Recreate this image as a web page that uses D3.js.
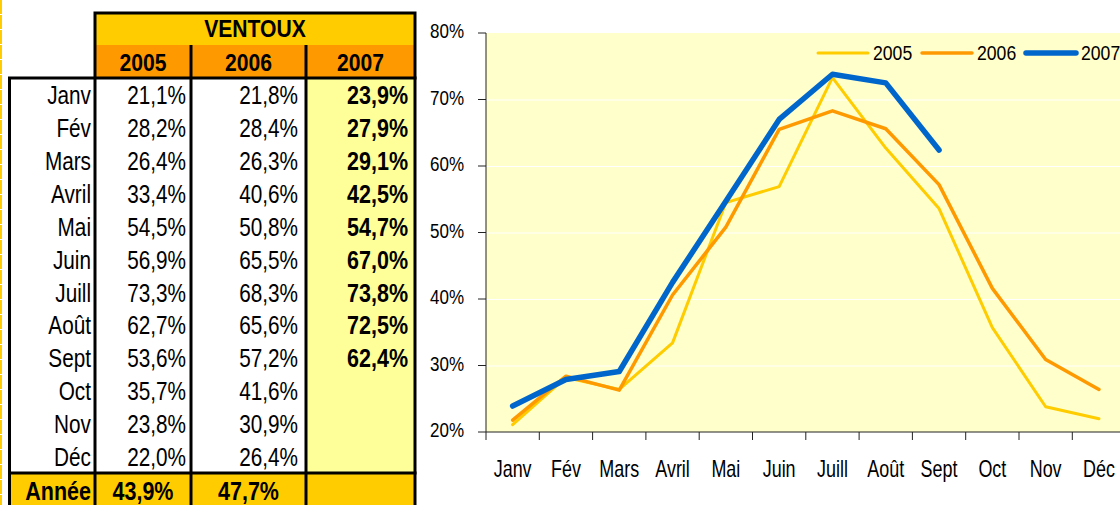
<!DOCTYPE html>
<html>
<head>
<meta charset="utf-8">
<script src="https://cdn.jsdelivr.net/npm/d3@7"></script>
<style>
body { margin:0; background:#fff; }
svg { display:block; font-family:"Liberation Sans", Arial, sans-serif; }
</style>
</head>
<body>
<svg id="fig" width="1120" height="505"></svg>
<script>
// donnees VENTOUX
var months = ["Janv","Fév","Mars","Avril","Mai","Juin","Juill","Août","Sept","Oct","Nov","Déc"];
var years = ["2005","2006","2007"];
var v2005 = [21.1,28.2,26.4,33.4,54.5,56.9,73.3,62.7,53.6,35.7,23.8,22.0];
var v2006 = [21.8,28.4,26.3,40.6,50.8,65.5,68.3,65.6,57.2,41.6,30.9,26.4];
var v2007 = [23.9,27.9,29.1,42.5,54.7,67.0,73.8,72.5,62.4];
var annee = [43.9,47.7,null];
var yTicks = [20,30,40,50,60,70,80];
var colors = ["#FFCC00","#FF9900","#0066CC"];

var svg = d3.select("#fig");
var fmt = function(v){ return v.toFixed(1).replace(".", ",") + "%"; };

// narrow text helper (Arial Narrow look)
function txt(g, x, y, s, sx, size, bold, anchor) {
  return g.append("text")
    .attr("transform", "translate(" + x + "," + y + ") scale(" + sx + ",1)")
    .attr("font-size", size)
    .attr("font-weight", bold ? "bold" : "normal")
    .attr("text-anchor", anchor || "end")
    .attr("fill", "#000")
    .text(s);
}

// left yellow edge
svg.append("line").attr("x1",1).attr("x2",1).attr("y1",0).attr("y2",505)
  .attr("stroke","#FFCC00").attr("stroke-width",2).attr("stroke-dasharray","14,1");

// ---------- table ----------
var tb = svg.append("g");
var colX = [9.5, 95, 191, 306, 415];
var rowY = d3.scaleBand().domain(months).range([78, 473]);

// header
tb.append("rect").attr("x",95).attr("y",13).attr("width",320).attr("height",32).attr("fill","#FFCC00");
tb.append("rect").attr("x",95).attr("y",45).attr("width",320).attr("height",33).attr("fill","#FF9900");
txt(tb, 255, 37, "VENTOUX", 0.88, 24, true, "middle");
years.forEach(function(yr, i){
  txt(tb, (colX[i+1]+colX[i+2])/2, 71, yr, 0.88, 24, true, "middle");
});
// body
tb.append("rect").attr("x",306).attr("y",78).attr("width",109).attr("height",395).attr("fill","#FFFF99");
tb.append("rect").attr("x",9.5).attr("y",473).attr("width",405.5).attr("height",40).attr("fill","#FFCC00");

months.forEach(function(m, i){
  var by = rowY(m) + 26;
  txt(tb, 91, by, m, 0.83, 25, false);
  txt(tb, 186, by, fmt(v2005[i]), 0.83, 25, false);
  txt(tb, 298, by, fmt(v2006[i]), 0.83, 25, false);
  if (v2007[i] != null) txt(tb, 408, by, fmt(v2007[i]), 0.86, 25, true);
});
txt(tb, 91, 500, "Année", 0.86, 25, true);
annee.forEach(function(v, i){
  if (v != null) txt(tb, (colX[i+1]+colX[i+2])/2, 500, fmt(v), 0.86, 25, true, "middle");
});

// borders
var bl = tb.append("g").attr("stroke","#000").attr("stroke-width",3).attr("fill","none");
bl.append("path").attr("d","M95,78 V13 H415 V78");
bl.append("line").attr("x1",191).attr("x2",191).attr("y1",45).attr("y2",78);
bl.append("line").attr("x1",306).attr("x2",306).attr("y1",45).attr("y2",78);
bl.append("line").attr("x1",8).attr("x2",416.5).attr("y1",78).attr("y2",78);
bl.append("line").attr("x1",8).attr("x2",416.5).attr("y1",473).attr("y2",473);
colX.forEach(function(x){
  bl.append("line").attr("x1",x).attr("x2",x).attr("y1",78).attr("y2",505);
});

// ---------- chart ----------
var x = d3.scaleBand().domain(months).range([486, 486 + 12 * 53.3]);
var y = d3.scaleLinear().domain([20, 80]).range([432, 33]);
var ch = svg.append("g");

ch.append("rect").attr("x",486).attr("y",33).attr("width",12*53.3).attr("height",399).attr("fill","#FFFFCC");
ch.selectAll(".grid").data(yTicks.slice(1, -1)).enter().append("line")
  .attr("x1",486).attr("x2",1126)
  .attr("y1",function(d){ return y(d) + 0.5; }).attr("y2",function(d){ return y(d) + 0.5; })
  .attr("stroke","#fff").attr("stroke-width",1.2);

// y axis
ch.append("line").attr("x1",486).attr("x2",486).attr("y1",33).attr("y2",432).attr("stroke","#222");
yTicks.forEach(function(t){
  ch.append("line").attr("x1",478).attr("x2",486).attr("y1",y(t)).attr("y2",y(t)).attr("stroke","#222");
  txt(ch, 464, y(t) + 5, t + "%", 0.81, 21, false);
});
// x axis
ch.append("line").attr("x1",486).attr("x2",1126).attr("y1",432).attr("y2",432).attr("stroke","#222");
months.forEach(function(m){
  ch.append("line").attr("x1",x(m)).attr("x2",x(m)).attr("y1",432).attr("y2",440).attr("stroke","#222");
  txt(ch, x(m) + x.bandwidth()/2, 477, m, 0.78, 23, false, "middle");
});

// lines
var series = [v2005, v2006, v2007];
var widths = [3, 3.5, 5.5];
var line = d3.line()
  .x(function(d, i){ return x(months[i]) + x.bandwidth()/2; })
  .y(function(d){ return y(d); });
series.forEach(function(s, k){
  ch.append("path").attr("d", line(s)).attr("fill","none")
    .attr("stroke", colors[k]).attr("stroke-width", widths[k])
    .attr("stroke-linejoin","round").attr("stroke-linecap","round");
});

// legend
var lx = [818, 922, 1026];
years.forEach(function(yr, k){
  ch.append("line").attr("x1",lx[k]).attr("x2",lx[k] + 50).attr("y1",53).attr("y2",53)
    .attr("stroke",colors[k]).attr("stroke-width",widths[k]).attr("stroke-linecap","round");
  txt(ch, lx[k] + 55, 60, yr, 0.84, 21, false, "start");
});
</script>
</body>
</html>
